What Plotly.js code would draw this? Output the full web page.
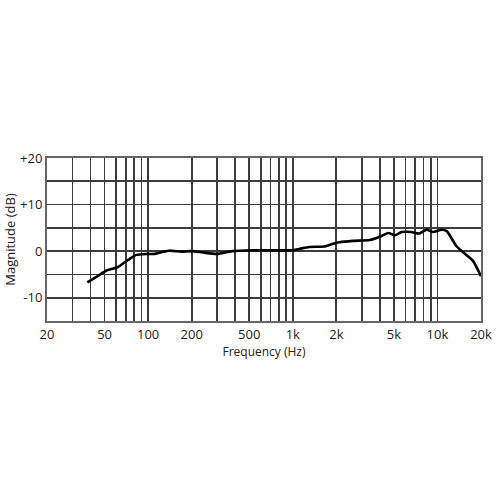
<!DOCTYPE html>
<html>
<head>
<meta charset="utf-8">
<script src="https://cdn.plot.ly/plotly-3.0.1.min.js"></script>
<style>html,body{margin:0;padding:0;background:#fff;}#chart{width:500px;height:500px;}</style>
</head>
<body>
<div id="chart"></div>
<script>
const freqHz = [38, 45, 52, 62, 68, 75, 83, 97, 110, 125, 140, 170, 200, 240, 300, 380, 540, 1000, 1150, 1300, 1650, 1900, 2100, 2600, 3400, 4000, 4570, 5080, 5650, 6600, 7480, 8400, 9350, 10700, 11600, 13500, 15000, 17600, 20000];
const magnitudeDb = [-6.7, -5.3, -4.1, -3.4, -2.5, -1.6, -0.8, -0.6, -0.6, -0.2, 0.1, -0.1, 0, -0.3, -0.6, 0, 0.2, 0.2, 0.6, 0.9, 1.0, 1.6, 1.9, 2.2, 2.4, 3.1, 3.9, 3.4, 4.1, 4.1, 3.8, 4.6, 4.1, 4.6, 4.3, 1.1, -0.2, -2.1, -5.4];

const xGridVals = [20, 30, 40, 50, 60, 70, 80, 90, 100, 200, 300, 400, 500, 600, 700, 800, 900, 1000, 2000, 3000, 4000, 5000, 6000, 7000, 8000, 9000, 10000, 20000];
const xLabelMap = {20: '20', 50: '50', 100: '100', 200: '200', 500: '500', 1000: '1k', 2000: '2k', 5000: '5k', 10000: '10k', 20000: '20k'};
const xTickText = xGridVals.map(v => xLabelMap[v] || '');

const yGridVals = [-15, -10, -5, 0, 5, 10, 15, 20];
const yLabelMap = {'-10': '-10', '0': '0', '10': '+10', '20': '+20'};
const yTickText = yGridVals.map(v => yLabelMap[String(v)] || '');

const gridColor = '#3c3c3c';
const borderColor = '#666666';
const fontFam = '"Open Sans", "Noto Sans", sans-serif';

Plotly.newPlot('chart', [{
  x: freqHz,
  y: magnitudeDb,
  type: 'scatter',
  mode: 'lines',
  line: {color: '#000000', width: 2.6, shape: 'spline', smoothing: 0.6},
  hoverinfo: 'skip'
}], {
  width: 500, height: 500,
  margin: {l: 47, r: 19, t: 158, b: 179},
  paper_bgcolor: '#ffffff',
  plot_bgcolor: '#ffffff',
  showlegend: false,
  font: {family: fontFam, color: '#222222', size: 13},
  xaxis: {
    type: 'log',
    range: [Math.log10(20), Math.log10(20000)],
    tickmode: 'array',
    tickvals: xGridVals,
    ticktext: xTickText,
    ticks: '',
    showgrid: true,
    gridcolor: gridColor,
    gridwidth: 1.7,
    showline: true,
    linecolor: borderColor,
    linewidth: 2,
    mirror: true,
    zeroline: false,
    tickfont: {size: 13, family: fontFam, color: '#222'},
    title: {text: 'Frequency (Hz)', font: {size: 12, family: fontFam, color: '#222'}, standoff: 4}
  },
  yaxis: {
    range: [-15, 20],
    tickmode: 'array',
    tickvals: yGridVals,
    ticktext: yTickText,
    ticks: '',
    showgrid: true,
    gridcolor: gridColor,
    gridwidth: 1.7,
    showline: true,
    linecolor: borderColor,
    linewidth: 2,
    mirror: true,
    zeroline: false,
    tickfont: {size: 13, family: fontFam, color: '#222'},
    title: {text: 'Magnitude (dB)', font: {size: 13, family: fontFam, color: '#222'}, standoff: 2}
  }
}, {displayModeBar: false, staticPlot: true});
</script>
</body>
</html>
